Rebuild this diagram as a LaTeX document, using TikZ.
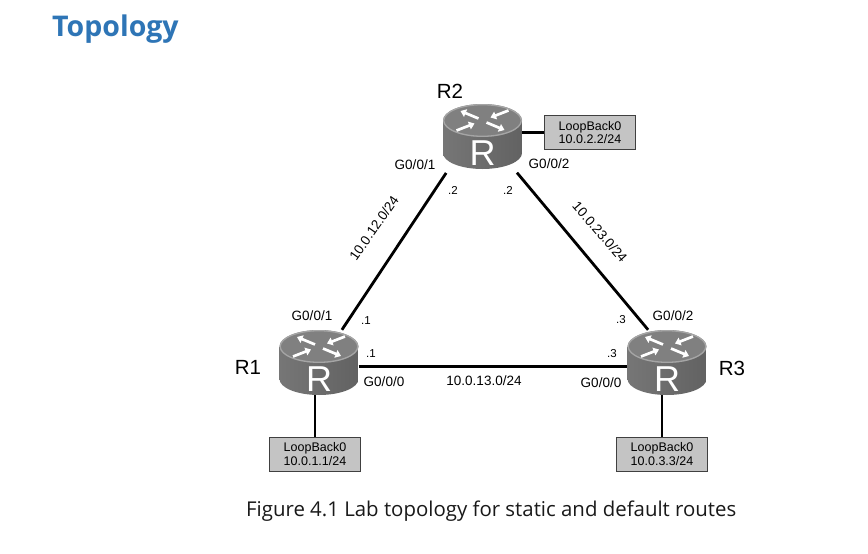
\documentclass[tikz,border=0pt]{standalone}
\usepackage{fontspec}
\setmainfont{Liberation Sans}
\newfontfamily\capfont{Open Sans}
\usetikzlibrary{arrows.meta}
\definecolor{titleblue}{RGB}{46,117,182}
\definecolor{rbodyL}{RGB}{118,118,118}
\definecolor{rbodyM}{RGB}{86,86,86}
\definecolor{rbodyR}{RGB}{98,98,98}
\definecolor{rtop}{RGB}{128,128,128}
\definecolor{rrim}{RGB}{165,165,165}
\definecolor{lbfill}{RGB}{196,196,196}
\newcommand{\routericon}{%
  \begin{scope}[shift={(path picture bounding box.center)}]
    \shade[left color=rbodyL, middle color=rbodyM, right color=rbodyR]
      (-39.5,-16) -- (-39.5,16.5) arc[start angle=180, end angle=360, x radius=39.5pt, y radius=16pt]
      -- (39.5,-16) -- cycle;
    \fill[rtop] (0,-16) ellipse[x radius=39.5pt, y radius=16.5pt];
    \draw[rrim, line width=1.3pt] (0,-16) ellipse[x radius=38.8pt, y radius=15.8pt];
    \draw[rarrow] (-4,-18) -- (-22,-25.5);
    \draw[rarrow] (4,-14) -- (22,-6.5);
    \draw[rarrow] (26,-26) -- (8,-19);
    \draw[rarrow] (-26,-6) -- (-8,-13);
    \node[text=white, inner sep=0, font=\fontsize{36}{36}\selectfont] at (0,17) {R};
  \end{scope}}
\tikzset{
  rarrow/.style={white, line width=2.7pt, -{Triangle[width=8pt,length=5.5pt]}},
  router/.style={minimum width=79pt, minimum height=65pt, inner sep=0pt, path picture={\routericon}},
  link/.style={line width=2.8pt, black},
  lbbox/.style={draw=black!75, fill=lbfill, line width=0.9pt, minimum width=91pt, minimum height=34pt,
    inner sep=0pt, align=center, font=\fontsize{12.5}{13.5}\selectfont},
  lbl/.style={inner sep=0pt, font=\fontsize{13.5}{13.5}\selectfont},
  ip/.style={inner sep=0pt, font=\fontsize{11.5}{11.5}\selectfont},
  rname/.style={inner sep=0pt, font=\fontsize{20.5}{20.5}\selectfont},
}
\begin{document}
\begin{tikzpicture}[x=1pt, y=-1pt]
\fill[white] (0,0) rectangle (868,554);
\useasboundingbox (0,0) rectangle (868,554);

\node[anchor=base west, inner sep=0pt, text=titleblue, font=\capfont\bfseries\fontsize{28.5}{28.5}\selectfont] (title) at (52,36) {Topology};

% routers
\node[router] (r2) at (482.5,136.5) {};
\node[router] (r1) at (319,362.5) {};
\node[router] (r3) at (667,362.5) {};

\node[rname] (n2) at (450,91) {R2};
\node[rname] (n1) at (248,367) {R1};
\node[rname] (n3) at (732,368) {R3};

% loopbacks
\node[lbbox] (lb2) at (590,132.5) {LoopBack0\\10.0.2.2/24};
\node[lbbox] (lb1) at (315,454) {LoopBack0\\10.0.1.1/24};
\node[lbbox] (lb3) at (662,454) {LoopBack0\\10.0.3.3/24};

% links
\draw[link, shorten >=4.5pt] (r1.55) -- (r2.224);
\draw[link, shorten <=4.5pt] (r2.-46.5) -- (r3.120);
\draw[link] ([yshift=-4pt]r1.east) -- ([yshift=-4pt]r3.west);
\draw[link] (lb2.west) -- (lb2.west -| r2.east);
\draw[link] (lb1.north) -- (lb1.north |- r1.south);
\draw[link] (lb3.north) -- (lb3.north |- r3.south);

% interface labels
\node[lbl] (g21) at (415,165) {G0/0/1};
\node[lbl] (g22) at (549,164) {G0/0/2};
\node[ip] (i21) at (453,190) {.2};
\node[ip] (i22) at (508,190) {.2};
\node[lbl, rotate=55] (net12) at (374,228) {10.0.12.0/24};
\node[lbl, rotate=-49] (net23) at (600,232) {10.0.23.0/24};
\node[lbl] (g11) at (312,316) {G0/0/1};
\node[ip] (i11) at (366,321) {.1};
\node[ip] (i12) at (371,354) {.1};
\node[lbl] (g10) at (384,382) {G0/0/0};
\node[lbl] (net13) at (484,381) {10.0.13.0/24};
\node[lbl] (g30) at (601,383) {G0/0/0};
\node[ip] (i31) at (621,320) {.3};
\node[ip] (i32) at (612,354) {.3};
\node[lbl] (g32) at (673,316) {G0/0/2};

\node[anchor=base west, inner sep=0pt, text=black!90, font=\capfont\fontsize{20.4}{20.4}\selectfont] (cap) at (246,516) {Figure 4.1 Lab topology for static and default routes};
\end{tikzpicture}
\end{document}
